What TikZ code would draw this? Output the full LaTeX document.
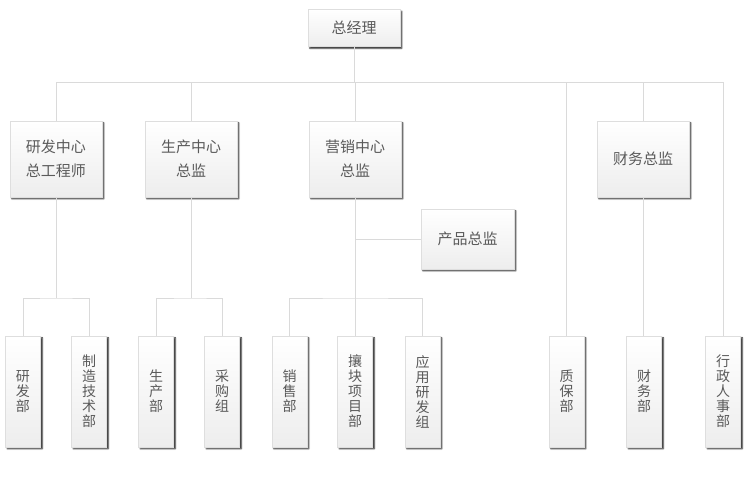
\documentclass[tikz,border=0pt]{standalone}
\usepackage{fontspec}
\setmainfont{Noto Sans CJK SC}
\usetikzlibrary{shadows.blur}
\definecolor{linegray}{HTML}{DADADA}
\definecolor{textgray}{HTML}{5A5A5A}

\begin{document}
\begin{tikzpicture}[x=1pt, y=-1pt,
		box/.style={draw=black!13, top color=white, bottom color=black!7, text=textgray, align=center, inner sep=0pt,
			blur shadow={shadow xshift=1.8pt, shadow yshift=-1.8pt, shadow blur radius=1.4pt, shadow opacity=90}},
		bigbox/.style={box, minimum width=92, minimum height=76, font=\fontsize{15}{24}\selectfont},
		leaf/.style={box, minimum width=35, minimum height=111, font=\fontsize{14}{15}\selectfont},
		link/.style={draw=linegray, line width=0.8pt}]
			\useasboundingbox (0,0) rectangle (748,482);
			\node[box, minimum width=92, minimum height=37, font=\fontsize{15}{24}\selectfont] (gm) at (354,28) {总经理};
			\node[bigbox] (rd) at (56,159) {研发中心\\总工程师};
			\node[bigbox] (pd) at (191,159) {生产中心\\总监};
			\node[bigbox] (mk) at (355,159) {营销中心\\总监};
			\node[bigbox] (fn) at (643,159) {财务总监};
			\node[box, minimum width=93, minimum height=60, font=\fontsize{15}{24}\selectfont] (pm) at (467.5,239) {产品总监};
			\node[leaf] (a) at (23,391.5) {研\\发\\部};
			\node[leaf] (b) at (89,391.5) {制\\造\\技\\术\\部};
			\node[leaf] (c) at (156,391.5) {生\\产\\部};
			\node[leaf] (d) at (222,391.5) {采\\购\\组};
			\node[leaf] (e) at (289.5,391.5) {销\\售\\部};
			\node[leaf] (f) at (355,391.5) {攘\\块\\项\\目\\部};
			\node[leaf] (g) at (422.5,391.5) {应\\用\\研\\发\\组};
			\node[leaf] (h) at (566.5,391.5) {质\\保\\部};
			\node[leaf] (i) at (644,391.5) {财\\务\\部};
			\node[leaf] (j) at (723,391.5) {行\\政\\人\\事\\部};
			\coordinate (top) at (723,82);
			\coordinate (rdbus) at (56,298);
			\coordinate (pdbus) at (191,298);
			\coordinate (mkbus) at (355,298);
			\draw[link] (rd) |- (top) -- (j);
			\draw[link] (gm) -- (gm |- top);
			\draw[link] (pd) -- (pd |- top);
			\draw[link] (mk) -- (mk |- top);
			\draw[link] (fn) -- (fn |- top);
			\draw[link] (h) -- (h |- top);
			\draw[link] (fn) -- (fn |- i.north);
			\draw[link] (rd) -- (rdbus);
			\draw[link] (a) |- (rdbus) -| (b);
			\draw[link] (pd) -- (pdbus);
			\draw[link] (c) |- (pdbus) -| (d);
			\draw[link] (mk) -- (mkbus);
			\draw[link] (e) |- (mkbus) -| (g);
			\draw[link] (f) -- (mkbus);
			\draw[link] (mk |- pm) -- (pm);
		\end{tikzpicture}
\end{document}
